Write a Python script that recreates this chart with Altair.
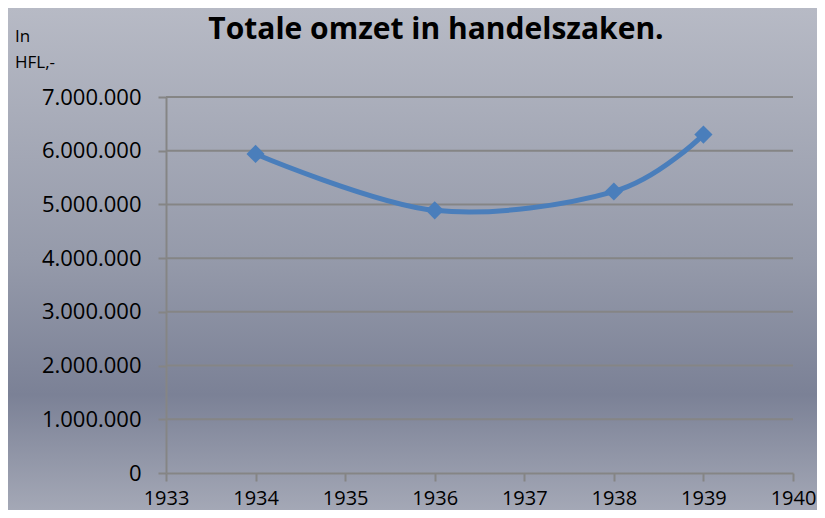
import altair as alt
import pandas as pd

years = [1934, 1936, 1938, 1939]
omzet = [5940000, 4890000, 5240000, 6300000]
y_ticks = [0, 1000000, 2000000, 3000000, 4000000, 5000000, 6000000, 7000000]
x_ticks = [1933, 1934, 1935, 1936, 1937, 1938, 1939, 1940]
title_text = "Totale omzet in handelszaken."
unit_lines = ["In", "HFL,-"]

W, H = 627, 376
PL, PT, PR, PB = 158, 89, 24, 37
FONT = "Open Sans"
AX = "#858585"

df = pd.DataFrame({"jaar": years, "omzet": omzet})
grid_df = pd.DataFrame({"omzet": y_ticks[1:]})

xs = alt.Scale(domain=[1933, 1940], nice=False, zero=False)
ys = alt.Scale(domain=[0, 7000000], nice=False)

x_enc = alt.X("jaar:Q", scale=xs,
              axis=alt.Axis(values=x_ticks, format="d", grid=False, zindex=1,
                            title=None, labelFontSize=20, labelFont=FONT,
                            labelColor="#000000", tickColor=AX, tickSize=8,
                            tickWidth=2, domainColor=AX, domainWidth=2,
                            labelBaseline="alphabetic", labelPadding=23,
                            labelFlush=False))
y_enc = alt.Y("omzet:Q", scale=ys,
              axis=alt.Axis(values=y_ticks, zindex=1,
                            labelExpr="replace(format(datum.value, ',d'), /,/g, '.')",
                            grid=False, title=None, labelFontSize=22, labelFont=FONT,
                            labelColor="#000000", tickColor=AX, tickSize=8,
                            tickWidth=2, domainColor=AX, domainWidth=2,
                            labelPadding=17))

bg = alt.Chart(pd.DataFrame({"a": [0]})).mark_rect(
    color=alt.LinearGradient(
        gradient="linear", x1=0, x2=0, y1=0, y2=1,
        stops=[alt.GradientStop(offset=0, color="#b7bac5"),
               alt.GradientStop(offset=0.5, color="#959aaa"),
               alt.GradientStop(offset=0.77, color="#7b8196"),
               alt.GradientStop(offset=1, color="#a4a8b6")])
).encode(x=alt.value(-PL), x2=alt.value(W + PR), y=alt.value(-PT), y2=alt.value(H + PB))

grid = alt.Chart(grid_df).mark_rule(color=AX, strokeWidth=2).encode(
    y=alt.Y("omzet:Q", scale=ys), x=alt.value(0), x2=alt.value(W))

line = alt.Chart(df).mark_line(interpolate="cardinal", color="#4a7ebb", strokeWidth=5).encode(
    x=x_enc, y=y_enc)
pts = alt.Chart(df).mark_point(shape="diamond", filled=True, size=330, color="#4a7ebb",
                               opacity=1).encode(x="jaar:Q", y="omzet:Q")

unit = alt.Chart(pd.DataFrame({"t": [unit_lines]})).mark_text(
    align="left", baseline="alphabetic", fontSize=17, font=FONT, color="#000000",
    lineHeight=26
).encode(text="t", x=alt.value(7 - PL), y=alt.value(42 - 8 - PT))

ttl = alt.Chart(pd.DataFrame({"t": [title_text]})).mark_text(
    align="center", baseline="alphabetic", fontSize=30, font=FONT, fontWeight="bold",
    color="#000000"
).encode(text="t", x=alt.value(436 - 8 - PL), y=alt.value(39 - 8 - PT))

chart = alt.layer(bg, grid, line, pts, unit, ttl).properties(
    width=W, height=H,
    autosize=alt.AutoSizeParams(type="none"),
    padding={"left": PL, "top": PT, "right": PR, "bottom": PB},
    background="#a0a4b2"
).configure_view(stroke=None)

chart.save("out.html", embed_options={"renderer": "svg", "actions": False})
